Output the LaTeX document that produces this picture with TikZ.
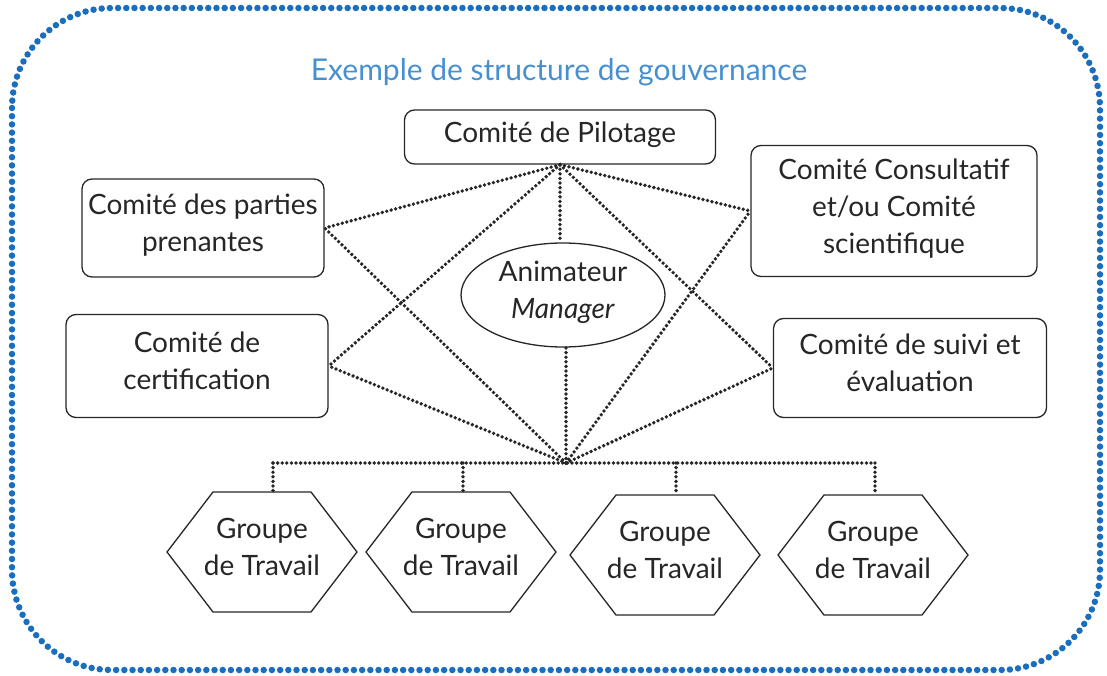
\documentclass[tikz,border=0pt]{standalone}
\usepackage{fontspec}
\setmainfont{Lato}
\usetikzlibrary{shapes.geometric,calc}
\definecolor{titleblue}{RGB}{70,144,210}
\definecolor{borderblue}{RGB}{26,110,190}
\begin{document}
\begin{tikzpicture}[x=1pt,y=-1pt,
  lbl/.style={font=\fontsize{28}{37}\selectfont, align=center, text=black!85, text depth=10pt},
  titlestyle/.style={font=\fontsize{30}{36}\selectfont, text=titleblue},
  box/.style={lbl, draw=black!85, line width=1.3pt, rounded corners=10pt, inner sep=0pt},
  dotline/.style={line width=3.8pt, dash pattern=on 0pt off 4.6pt, line cap=round, draw=black!85},
  hexline/.style={draw=black!85, line width=1.3pt, line join=miter},
  border/.style={draw=borderblue, line width=6.5pt, dash pattern=on 0pt off 8.2pt, line cap=round}]
\useasboundingbox (0,0) rectangle (1107,676);
\draw[border, rounded corners=100pt] (12,8) rectangle (1100,670);
\node[titlestyle] (title) at (559,72) {Exemple de structure de gouvernance};
\node[box, minimum width=311, minimum height=54] (pilot) at (560,137) {Comité de Pilotage};
\node[box, minimum width=242, minimum height=98] (pp) at (203,228) {Comité des parties\\prenantes};
\node[box, minimum width=286, minimum height=131] (cons) at (894,211) {Comité Consultatif\\et/ou Comité\\scientifique};
\node[lbl, draw=black!85, line width=1.3pt, ellipse, inner sep=0pt, minimum width=204, minimum height=104] (man) at (563,295) {Animateur\\\textit{Manager}};
\node[box, minimum width=262, minimum height=103] (cert) at (197,366) {Comité de\\certification};
\node[box, minimum width=273, minimum height=99] (suivi) at (910,368) {Comité de suivi et\\évaluation};
\coordinate (bj) at (566,463);
% lines
\draw[dotline] (pilot.south) -- (pp.east);
\draw[dotline] (pilot.south) -- (cert.east);
\draw[dotline] (pilot.south) -- (cons.west);
\draw[dotline] (pilot.south) -- (suivi.west);
\draw[dotline] (pilot.south) -- (pilot.south |- man.north);
\draw[dotline] (bj) -- (pp.east);
\draw[dotline] (bj) -- (cert.east);
\draw[dotline] (bj) -- (cons.west);
\draw[dotline] (bj) -- (suivi.west);
\draw[dotline] (bj) -- (bj |- man.south);
% hexagons
\foreach \n/\cx/\cy in {g1/262/552, g2/461/552, g3/665/555, g4/873/555}{
  \node[lbl] (\n) at (\cx,\cy) {Groupe\\de Travail};
  \draw[hexline] ($(\n.center)+(-95,0)$) -- ++(46,-60) -- ++(98,0) -- ++(46,60) -- ++(-46,60) -- ++(-98,0) -- cycle;
  \coordinate (\n top) at ($(\n.center)+(0,-60)$);
}
\coordinate (d1) at (273,463);
\coordinate (d2) at (463,463);
\coordinate (d3) at (676,463);
\coordinate (d4) at (875,463);
\draw[dotline] (d1) -- (d4);
\draw[dotline] (d1) -- (d1 |- g1top);
\draw[dotline] (d2) -- (d2 |- g2top);
\draw[dotline] (d3) -- (d3 |- g3top);
\draw[dotline] (d4) -- (d4 |- g4top);
\end{tikzpicture}
\end{document}
